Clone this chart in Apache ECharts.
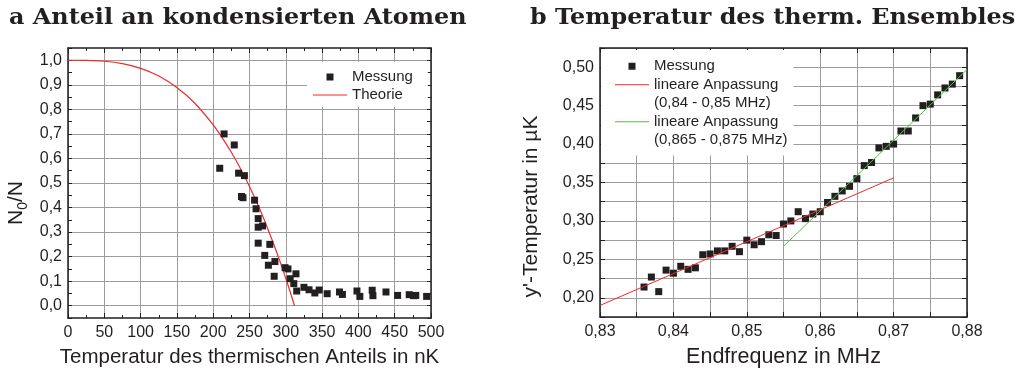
<!DOCTYPE html>
<html>
<head>
<meta charset="utf-8">
<script src="https://cdn.jsdelivr.net/npm/echarts@6/dist/echarts.min.js"></script>
<style>
  html, body { margin: 0; padding: 0; background: #ffffff; }
  #chart { width: 1023px; height: 376px; }
</style>
</head>
<body>
<div id="chart"></div>
<script>
// ---- Panel a: condensed fraction N0/N vs. temperature of the thermal part ----
const condTemps = [209, 215, 229, 235, 239, 241, 243, 257, 259, 262, 262, 262, 268, 271, 276, 278,
  284, 285, 299, 303, 306, 311, 314, 315, 325, 332, 340, 346, 357, 374, 378, 398, 402, 419, 420,
  438, 454, 470, 476, 479, 494];
const condFraction = [0.56, 0.70, 0.655, 0.54, 0.445, 0.44, 0.53, 0.43, 0.395, 0.355, 0.32, 0.255,
  0.325, 0.205, 0.165, 0.25, 0.12, 0.18, 0.155, 0.15, 0.11, 0.09, 0.13, 0.06, 0.075, 0.065, 0.052,
  0.064, 0.049, 0.056, 0.046, 0.06, 0.038, 0.063, 0.041, 0.056, 0.042, 0.045, 0.041, 0.042, 0.038];

// theory curve
const theoryTemps = [0, 25, 50, 75, 100, 125, 150, 175, 200, 212.5, 225, 237.5, 250, 262.5, 275,
  287.5, 300, 306, 312];
const theoryFraction = [1.000, 0.9995, 0.996, 0.986, 0.967, 0.936, 0.889, 0.824, 0.737, 0.684,
  0.625, 0.559, 0.486, 0.405, 0.315, 0.218, 0.111, 0.057, 0.0];

// ---- Panel b: temperature of the thermal ensemble vs. final RF frequency ----
const endFreq = [0.836, 0.837, 0.838, 0.839, 0.840, 0.841, 0.842, 0.843, 0.844, 0.845, 0.846,
  0.847, 0.848, 0.849, 0.850, 0.851, 0.852, 0.853, 0.854, 0.855, 0.856, 0.857, 0.858, 0.859,
  0.860, 0.861, 0.862, 0.863, 0.864, 0.865, 0.866, 0.867, 0.868, 0.869, 0.870, 0.871, 0.872,
  0.873, 0.874, 0.875, 0.876, 0.877, 0.878, 0.879];
const ensembleTemp = [0.214, 0.227, 0.208, 0.236, 0.232, 0.241, 0.237, 0.239, 0.256, 0.257,
  0.261, 0.261, 0.267, 0.260, 0.275, 0.269, 0.273, 0.282, 0.281, 0.296, 0.300, 0.312, 0.303,
  0.309, 0.312, 0.324, 0.332, 0.339, 0.345, 0.355, 0.372, 0.376, 0.395, 0.397, 0.400, 0.417,
  0.417, 0.434, 0.450, 0.452, 0.464, 0.473, 0.478, 0.489];

// linear fits (end points)
const fitLowFreq = [0.83, 0.87];
const fitLowTemp = [0.190, 0.356];
const fitHighFreq = [0.855, 0.88];
const fitHighTemp = [0.267, 0.497];

// titles and legend texts
const titleA = 'a Anteil an kondensierten Atomen';
const titleB = 'b Temperatur des therm. Ensembles';
const fitLowName = 'lineare Anpassung';
const fitLowRange = '(0,84 - 0,85 MHz)';
const fitHighName = 'lineare Anpassung ';
const fitHighRange = '(0,865 - 0,875 MHz)';

const pairs = (xs, ys) => xs.map((x, i) => [x, ys[i]]);

const SANS = "'Liberation Sans', Arial, sans-serif";
const SERIF = "'DejaVu Serif', 'Liberation Serif', serif";
const INK = '#231f20';
const GRID = '#9d9d9d';
const RED = '#ef2a2a';
const GREEN = '#5cb84f';
const SQUARE = 'path://M0,0h10v10h-10z';
const LINE_ICON = 'path://M0,0h34v1.1h-34z';

const comma = (v, d) => v.toFixed(d).replace('.', ',');

function frame(extra) {
  return Object.assign({
    type: 'value',
    axisLine: { show: true, onZero: false, lineStyle: { color: INK, width: 1.5 } },
    axisTick: { show: true, inside: true, length: 5, lineStyle: { color: INK, width: 1 } },
    axisLabel: { show: false },
    splitLine: { show: false }
  }, extra);
}

const tickLabel = { show: true, fontSize: 16, color: INK, fontFamily: SANS };
const nameStyle = { fontSize: 21, color: INK, fontFamily: SANS };

// panel headings: wide bold serif
function heading(text, x) {
  return {
    type: 'text', x: x, y: 7, scaleX: 1.085,
    style: { text: text, fontFamily: SERIF, fontWeight: 'bold', fontSize: 22, fill: INK,
             textAlign: 'left', textVerticalAlign: 'top' }
  };
}

const option = {
  animation: false,
  backgroundColor: '#ffffff',
  graphic: [heading(titleA, 9), heading(titleB, 530)],
  grid: [
    { left: 68, top: 48, width: 363, height: 270, outerBoundsMode: 'none' },
    { left: 600, top: 48, width: 367, height: 269, outerBoundsMode: 'none' }
  ],
  xAxis: [
    frame({
      gridIndex: 0, position: 'bottom', min: 0, max: 500, interval: 50,
      minorTick: { show: true, splitNumber: 2, length: 3, lineStyle: { color: INK } },
      axisLabel: Object.assign({}, tickLabel, { margin: 7 }),
      splitLine: { show: true, lineStyle: { color: GRID, width: 1 } },
      name: 'Temperatur des thermischen Anteils in nK', nameLocation: 'middle', nameGap: 29,
      nameTextStyle: Object.assign({}, nameStyle, { fontSize: 20.5 })
    }),
    frame({
      gridIndex: 0, position: 'top', min: 0, max: 500, interval: 50,
      minorTick: { show: true, splitNumber: 2, length: 3, lineStyle: { color: INK } }
    }),
    frame({
      gridIndex: 1, position: 'bottom', min: 0.83, max: 0.88, interval: 0.005,
      axisLabel: Object.assign({}, tickLabel, {
        margin: 7,
        formatter: v => (Math.round(v * 1000) % 10 === 0 ? comma(v, 2) : '')
      }),
      splitLine: { show: true, lineStyle: { color: GRID, width: 1 } },
      name: 'Endfrequenz in MHz', nameLocation: 'middle', nameGap: 29,
      nameTextStyle: Object.assign({}, nameStyle, { fontSize: 21.5 })
    }),
    frame({ gridIndex: 1, position: 'top', min: 0.83, max: 0.88, interval: 0.005 })
  ],
  yAxis: [
    frame({
      gridIndex: 0, position: 'left', min: -0.05, max: 1.05, interval: 0.05,
      axisTick: { show: true, inside: true, length: 4, lineStyle: { color: INK } },
      axisLabel: Object.assign({}, tickLabel, {
        margin: 6,
        formatter: v => {
          const k = Math.round(v * 100);
          return (k >= 0 && k % 10 === 0) ? comma(v, 1) : '';
        }
      }),
      // grid lines on every 0.1, none on the odd 0.05 ticks
      splitLine: { show: true, lineStyle: { color: ['rgba(0,0,0,0)', GRID], width: 1 } },
      name: '{n|N}{s|0}{n|/N}', nameLocation: 'middle', nameGap: 38,
      nameTextStyle: {
        color: INK, fontFamily: SANS, padding: [0, 40, 0, 0],
        rich: {
          n: { fontSize: 21, lineHeight: 28, fontFamily: SANS, color: INK },
          s: { fontSize: 14, lineHeight: 28, verticalAlign: 'bottom', fontFamily: SANS, color: INK }
        }
      }
    }),
    frame({
      gridIndex: 0, position: 'right', min: -0.05, max: 1.05, interval: 0.05,
      axisTick: { show: true, inside: true, length: 4, lineStyle: { color: INK } }
    }),
    frame({
      gridIndex: 1, position: 'left', min: 0.175, max: 0.525, interval: 0.025,
      axisLabel: Object.assign({}, tickLabel, {
        margin: 6,
        formatter: v => (Math.round(v * 1000) % 50 === 0 ? comma(v, 2) : '')
      }),
      splitLine: { show: true, lineStyle: { color: GRID, width: 1 } },
      name: "y'-Temperatur in µK", nameLocation: 'middle', nameGap: 58,
      nameTextStyle: Object.assign({}, nameStyle, { padding: [0, 48, 0, 0] })
    }),
    frame({ gridIndex: 1, position: 'right', min: 0.175, max: 0.525, interval: 0.025 })
  ],
  legend: [
    {
      orient: 'vertical', left: 307, top: 62, padding: [6, 15, 3, 6],
      backgroundColor: '#ffffff', itemWidth: 34, itemHeight: 7, itemGap: 0,
      selectedMode: false,
      textStyle: { fontSize: 15, lineHeight: 18, color: INK, fontFamily: SANS },
      data: [{ name: 'Messung', icon: SQUARE }, { name: 'Theorie', icon: LINE_ICON }]
    },
    {
      orient: 'vertical', left: 601, top: 50, padding: [7, 6, 6, 14],
      backgroundColor: '#ffffff', itemWidth: 34, itemHeight: 7, itemGap: 0,
      selectedMode: false,
      textStyle: { fontSize: 15, lineHeight: 18.5, color: INK, fontFamily: SANS },
      data: [
        { name: 'Messung', icon: SQUARE },
        { name: fitLowName, icon: LINE_ICON },
        { name: fitLowRange, icon: 'none' },
        { name: fitHighName, icon: LINE_ICON },
        { name: fitHighRange, icon: 'none' }
      ]
    }
  ],
  series: [
    {
      name: 'Theorie', type: 'line', xAxisIndex: 0, yAxisIndex: 0,
      data: pairs(theoryTemps, theoryFraction), smooth: 0.3,
      symbol: 'none', lineStyle: { color: RED, width: 1.2 }, itemStyle: { color: RED }, z: 3
    },
    {
      name: 'Messung', type: 'scatter', xAxisIndex: 0, yAxisIndex: 0,
      data: pairs(condTemps, condFraction), symbol: 'rect', symbolSize: 7,
      itemStyle: { color: INK, opacity: 1 }, z: 4
    },
    {
      name: 'Messung', type: 'scatter', xAxisIndex: 2, yAxisIndex: 2,
      data: pairs(endFreq, ensembleTemp), symbol: 'rect', symbolSize: 7,
      itemStyle: { color: INK, opacity: 1 }, z: 3
    },
    {
      name: fitLowName, type: 'line', xAxisIndex: 2, yAxisIndex: 2,
      data: pairs(fitLowFreq, fitLowTemp), symbol: 'none',
      lineStyle: { color: RED, width: 1 }, itemStyle: { color: RED }, z: 4
    },
    {
      name: fitHighName, type: 'line', xAxisIndex: 2, yAxisIndex: 2,
      data: pairs(fitHighFreq, fitHighTemp), symbol: 'none',
      lineStyle: { color: GREEN, width: 1 }, itemStyle: { color: GREEN }, z: 4
    },
    { name: fitLowRange, type: 'line', xAxisIndex: 2, yAxisIndex: 2, data: [], symbol: 'none' },
    { name: fitHighRange, type: 'line', xAxisIndex: 2, yAxisIndex: 2, data: [], symbol: 'none' }
  ]
};

const chart = echarts.init(document.getElementById('chart'), null, { renderer: 'canvas' });
chart.setOption(option);
</script>
</body>
</html>
